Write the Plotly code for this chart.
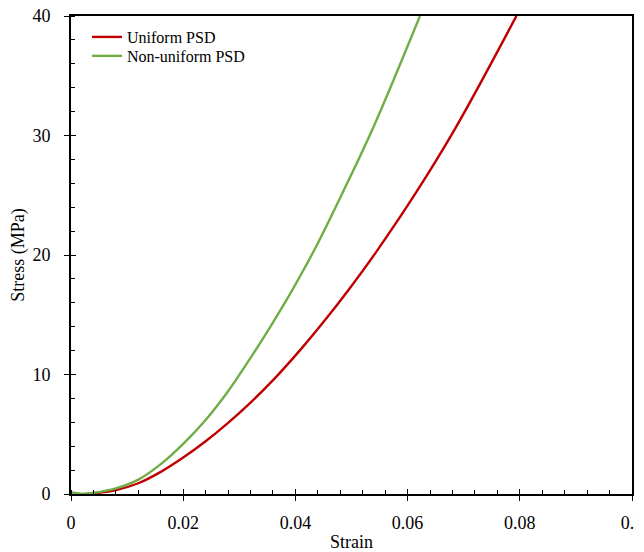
import plotly.graph_objects as go

uniform_strain = [0.0025, 0.004, 0.008, 0.012, 0.016, 0.020, 0.024, 0.028, 0.032, 0.0358, 0.0408, 0.0455, 0.0497, 0.0542, 0.0616, 0.0685, 0.0794]
uniform_stress = [0.0, 0.05, 0.33, 0.9, 1.85, 3.05, 4.41, 5.95, 7.65, 9.42, 12.02, 14.68, 17.22, 20.12, 25.3, 30.6, 40.0]

nonuniform_strain = [0.0, 0.002, 0.004, 0.008, 0.012, 0.016, 0.020, 0.024, 0.028, 0.0325, 0.0358, 0.0385, 0.0408, 0.0433, 0.0485, 0.054, 0.0622]
nonuniform_stress = [0.15, 0.02, 0.1, 0.47, 1.2, 2.5, 4.2, 6.2, 8.6, 11.75, 14.2, 16.3, 18.2, 20.35, 25.3, 30.8, 40.0]

x_ticks = [0, 0.02, 0.04, 0.06, 0.08, 0.1]
x_tick_labels = ["0", "0.02", "0.04", "0.06", "0.08", "0.1"]
y_ticks = [0, 10, 20, 30, 40]

FONT = "Liberation Serif"

fig = go.Figure()
fig.add_trace(go.Scatter(x=uniform_strain, y=uniform_stress, mode="lines", legend="legend",
                         name="Uniform PSD", line=dict(color="#C00000", width=2.4, shape="spline", smoothing=1.0)))
fig.add_trace(go.Scatter(x=nonuniform_strain, y=nonuniform_stress, mode="lines", legend="legend2",
                         name="Non-uniform PSD", line=dict(color="#70AD47", width=2.4, shape="spline", smoothing=1.0)))
# invisible trace for overlay axes (inner half of the crossing major ticks)
fig.add_trace(go.Scatter(x=[0], y=[0], xaxis="x2", yaxis="y2", mode="markers",
                         marker=dict(opacity=0), showlegend=False, hoverinfo="skip"))

axis_common = dict(showgrid=False, zeroline=False, showline=True, linecolor="black",
                   linewidth=1.6, mirror=True, tickcolor="black", tickwidth=1.3,
                   automargin=False, ticklabeloverflow="allow",
                   tickfont=dict(family=FONT, size=18, color="black"))

legend_common = dict(xanchor="left", yanchor="top", font=dict(family=FONT, size=16, color="black"),
                     bgcolor="rgba(0,0,0,0)", borderwidth=0)

# page body adds an 8px offset, so the figure is placed 8px right/down
fig.update_layout(
    width=636, height=544,
    margin=dict(l=63, r=12, t=8, b=58),
    plot_bgcolor="white", paper_bgcolor="white",
    font=dict(family=FONT, color="black"),
    xaxis=dict(range=[0, 0.1], tickvals=x_ticks, ticktext=x_tick_labels,
               ticks="outside", ticklen=5, ticklabelstandoff=7,
               minor=dict(dtick=0.004, ticks="inside", ticklen=4, tickcolor="black", tickwidth=1),
               title=dict(text="Strain", font=dict(family=FONT, size=18), standoff=4),
               **axis_common),
    yaxis=dict(range=[0, 40], tickvals=y_ticks, ticks="outside", ticklen=5, ticklabelstandoff=10,
               minor=dict(dtick=2, ticks="inside", ticklen=4, tickcolor="black", tickwidth=1),
               title=dict(text="Stress (MPa)", font=dict(family=FONT, size=18), standoff=8),
               **axis_common),
    xaxis2=dict(range=[0, 0.1], overlaying="x", tickvals=x_ticks, ticks="inside", ticklen=5,
                showticklabels=False, showgrid=False, zeroline=False, showline=False,
                tickcolor="black", tickwidth=1.3, automargin=False),
    yaxis2=dict(range=[0, 40], overlaying="y", tickvals=y_ticks, ticks="inside", ticklen=5,
                showticklabels=False, showgrid=False, zeroline=False, showline=False,
                tickcolor="black", tickwidth=1.3, automargin=False),
    legend=dict(x=0.0285, y=0.9916, **legend_common),
    legend2=dict(x=0.0285, y=0.952, **legend_common),
    showlegend=True,
)

fig.write_html("out.html")
